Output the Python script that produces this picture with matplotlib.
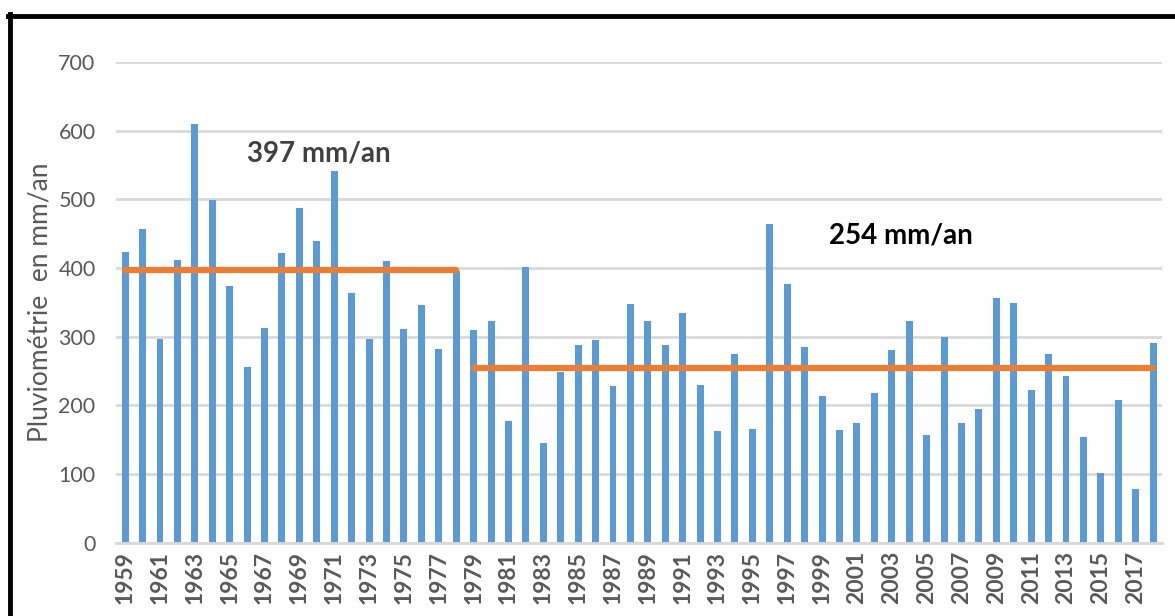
import matplotlib
matplotlib.use("Agg")
import matplotlib.pyplot as plt
from matplotlib.lines import Line2D
import numpy as np

years = list(range(1959, 2019))
rain = [423, 457, 297, 411, 609, 499, 374, 256, 313, 422,
        487, 439, 541, 363, 297, 410, 311, 346, 282, 396,
        309, 323, 177, 402, 145, 248, 287, 295, 228, 347,
        323, 287, 335, 230, 163, 275, 166, 464, 377, 285,
        214, 164, 174, 218, 281, 323, 157, 299, 174, 194,
        356, 349, 222, 275, 242, 153, 101, 208, 78, 291]
mean1_val, mean1_years = 397, (1959, 1978)
mean2_val, mean2_years = 254, (1979, 2018)
label1 = "397 mm/an"
label2 = "254 mm/an"
ylabel = "Pluviométrie  en mm/an"
yticks = [0, 100, 200, 300, 400, 500, 600, 700]

plt.rcParams['font.family'] = ['Lato', 'DejaVu Sans']

fig = plt.figure(figsize=(11.75, 6.16), dpi=100)
ax = fig.add_axes([0.0991, 0.1193, 0.8897, 0.7801])

x = np.arange(len(years))
ax.bar(x, rain, width=0.4, color='#5B9BD5', zorder=2)

i1a, i1b = years.index(mean1_years[0]), years.index(mean1_years[1])
i2a, i2b = years.index(mean2_years[0]), years.index(mean2_years[1])
ax.plot([i1a, i1b], [mean1_val, mean1_val], color='#ED7D31', lw=4.5,
        solid_capstyle='round', zorder=3)
ax.plot([i2a, i2b], [mean2_val, mean2_val], color='#ED7D31', lw=4.5,
        solid_capstyle='round', zorder=3)

ax.set_xlim(-0.5, len(years) - 0.5)
ax.set_ylim(0, 700)
ax.set_yticks(yticks)
ax.set_yticklabels([str(v) for v in yticks], fontsize=15.5, color='#595959')
ax.set_xticks(x[::2])
ax.set_xticklabels([str(y) for y in years[::2]], rotation=90, fontsize=16.5,
                   fontweight='bold', color='#595959')
ax.tick_params(axis='both', length=0)
ax.tick_params(axis='y', pad=15)
ax.tick_params(axis='x', pad=6)
ax.grid(axis='y', color='#d9d9d9', lw=2, zorder=0)
ax.set_axisbelow(True)
for s in ['top', 'right', 'left']:
    ax.spines[s].set_visible(False)
ax.spines['bottom'].set_color('#d9d9d9')
ax.spines['bottom'].set_linewidth(2)

ax.set_ylabel(ylabel, fontsize=19, color='#595959')
ax.yaxis.set_label_coords(-0.061, 0.5)

ax.text(11.1, 567, label1, fontsize=20, fontweight='bold', color='#404040',
        ha='center', va='center')
ax.text(44.5, 447, label2, fontsize=20, fontweight='bold', color='black',
        ha='center', va='center')

# black frame (clipped at right and bottom)
fig.add_artist(Line2D([8 / 1175, 1.0], [1 - 15.5 / 616, 1 - 15.5 / 616],
                      color='black', lw=3.5, transform=fig.transFigure))
fig.add_artist(Line2D([10 / 1175, 10 / 1175], [0, 1 - 14 / 616],
                      color='black', lw=3.5, transform=fig.transFigure))

fig.savefig('out.png', dpi=100)
